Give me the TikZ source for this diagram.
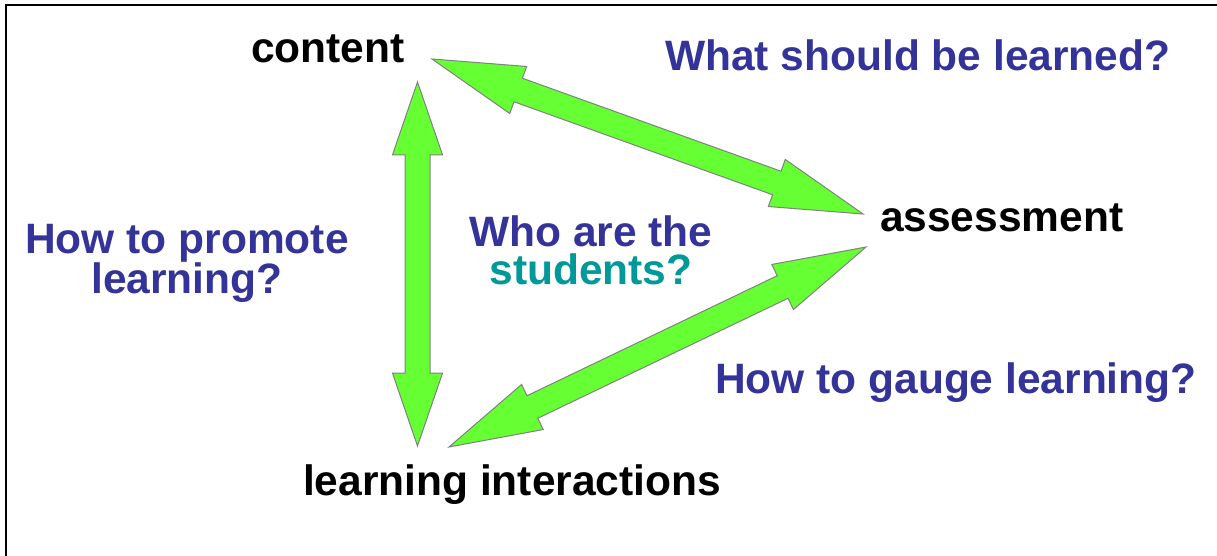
\documentclass[tikz,border=0pt]{standalone}
\usepackage{fontspec}
\setmainfont{Liberation Sans}
\usetikzlibrary{calc}
\definecolor{qblue}{RGB}{51,51,153}
\definecolor{qteal}{RGB}{0,153,153}
\definecolor{agreen}{RGB}{102,255,51}
\definecolor{agrey}{RGB}{128,128,128}
\newcommand\blockdbl[3]{%
  \coordinate (#3h1) at ($(#1)!0.2!(#2)$);
  \coordinate (#3h2) at ($(#2)!0.2!(#1)$);
  \filldraw[arrowbody] (#1)
    -- ($(#3h1)!25pt!90:(#2)$) -- ($(#3h1)!12.5pt!90:(#2)$)
    -- ($(#3h2)!12.5pt!-90:(#1)$) -- ($(#3h2)!25pt!-90:(#1)$)
    -- (#2)
    -- ($(#3h2)!25pt!90:(#1)$) -- ($(#3h2)!12.5pt!90:(#1)$)
    -- ($(#3h1)!12.5pt!-90:(#2)$) -- ($(#3h1)!25pt!-90:(#2)$)
    -- cycle;}
\begin{document}
\begin{tikzpicture}[x=1pt,y=-1pt,
  arrowbody/.style={fill=agreen,draw=agrey,line width=1pt,line join=miter},
  lbl/.style={inner sep=0pt,outer sep=0pt,font=\fontsize{42.5}{40}\selectfont\bfseries},
  qlbl/.style={lbl,text=qblue},
  frame/.style={line width=2.2pt,black}]
\useasboundingbox (0,0) rectangle (1217,556);
% frame
\coordinate (fr1) at (1217,5);
\coordinate (fr2) at (6,5);
\coordinate (fr3) at (6,556);
\draw[frame] (fr1) -- (fr2) -- (fr3);
% labels
\node[lbl,anchor=base west] (content) at (251,63) {content};
\node[lbl,anchor=base west] (assess) at (880,231) {assessment};
\node[lbl,anchor=base west] (inter) at (303,495) {learning interactions};
\node[qlbl,anchor=base west] (qwhat) at (665,71) {What should be learned?};
\node[qlbl,anchor=base west] (qgauge) at (715,393) {How to gauge learning?};
\node[qlbl,anchor=base,align=center] (qprom) at (187,293) {How to promote\\learning?};
\node[lbl,anchor=base,align=center,font=\fontsize{42.5}{37.5}\selectfont\bfseries] (qwho) at (591,284) {\textcolor{qblue}{Who are the}\\\textcolor{qteal}{students?}};
% arrow end points
\coordinate (cV) at (417.5,82);
\coordinate (iV) at (417.5,446);
\coordinate (cD) at (432,59);
\coordinate (aD) at (863,214);
\coordinate (aL) at (866,247);
\coordinate (iL) at (449,447);
\blockdbl{cV}{iV}{v}
\blockdbl{cD}{aD}{d}
\blockdbl{aL}{iL}{l}
\end{tikzpicture}
\end{document}
